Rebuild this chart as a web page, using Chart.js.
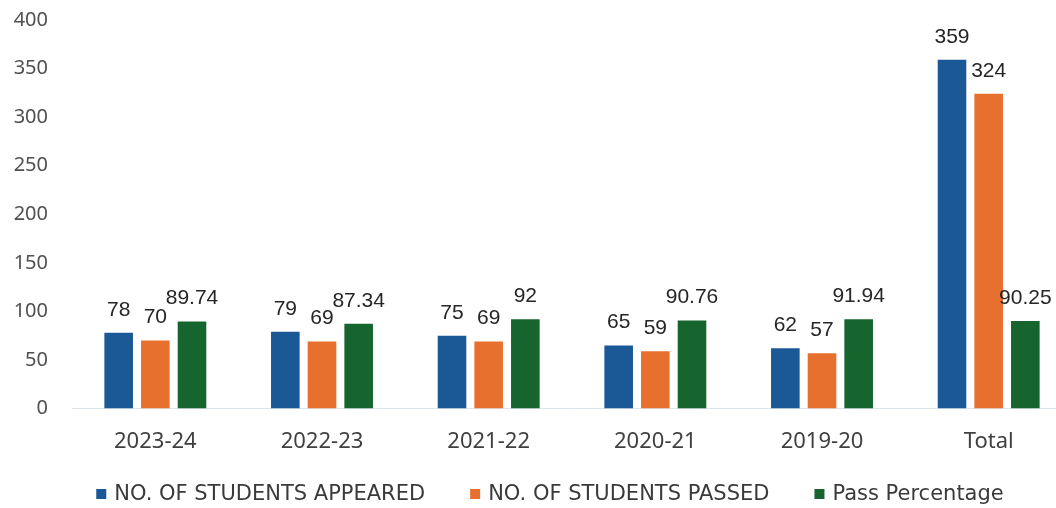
<!DOCTYPE html>
<html>
<head>
<meta charset="utf-8">
<script src="https://cdn.jsdelivr.net/npm/chart.js@4.4.1/dist/chart.umd.min.js"></script>
<style>
  html, body { margin: 0; padding: 0; background: #ffffff; overflow: hidden; }
  #wrap { width: 1072px; height: 508px; }
</style>
</head>
<body>
<div id="wrap"><canvas id="c" width="1072" height="508"></canvas></div>
<script>
const categories = ["2023-24", "2022-23", "2021-22", "2020-21", "2019-20", "Total"];
const appeared = [78, 79, 75, 65, 62, 359];
const passed = [70, 69, 69, 59, 57, 324];
const passPercentage = [89.74, 87.34, 92, 90.76, 91.94, 90.25];
const seriesNames = ["NO. OF STUDENTS APPEARED", "NO. OF STUDENTS PASSED", "Pass Percentage"];
const yTicks = [0, 50, 100, 150, 200, 250, 300, 350, 400];

const labelPlugin = {
  id: 'barLabels',
  afterDatasetsDraw(chart) {
    const ctx = chart.ctx;
    ctx.save();
    ctx.font = '21px "Liberation Sans", Arial, sans-serif';
    ctx.fillStyle = '#262626';
    ctx.textAlign = 'center';
    ctx.textBaseline = 'middle';
    chart.data.datasets.forEach((ds, di) => {
      const meta = chart.getDatasetMeta(di);
      meta.data.forEach((bar, i) => {
        ctx.fillText(String(ds.data[i]), bar.x, bar.y - 23);
      });
    });
    ctx.restore();
  }
};

// legend drawn from the dataset labels/colours
const legendPlugin = {
  id: 'bottomLegend',
  afterDraw(chart) {
    const ctx = chart.ctx;
    ctx.save();
    ctx.font = '21px "DejaVu Sans", sans-serif';
    ctx.textBaseline = 'middle';
    ctx.textAlign = 'left';
    const box = 10, gapBox = 8, gapItem = 45;
    const items = chart.data.datasets.map(ds => ({
      text: ds.label, color: ds.backgroundColor, w: ctx.measureText(ds.label).width
    }));
    const total = items.reduce((s, it) => s + box + gapBox + it.w, 0) + gapItem * (items.length - 1);
    const cx = 550, cy = chart.height - 13;
    let x = cx - total / 2;
    items.forEach(it => {
      ctx.fillStyle = it.color;
      ctx.fillRect(x, cy - box / 2 - 1, box, box);
      x += box + gapBox;
      ctx.fillStyle = '#3a3a3a';
      ctx.fillText(it.text, x, cy);
      x += it.w + gapItem;
    });
    ctx.restore();
  }
};

new Chart(document.getElementById('c'), {
  type: 'bar',
  data: {
    labels: categories,
    datasets: [
      { label: seriesNames[0], data: appeared, backgroundColor: '#1b5896' },
      { label: seriesNames[1], data: passed, backgroundColor: '#e8702f' },
      { label: seriesNames[2], data: passPercentage, backgroundColor: '#17652e' }
    ]
  },
  options: {
    responsive: false,
    animation: false,
    devicePixelRatio: 1,
    layout: { padding: { top: 0, left: 10, right: 0, bottom: 33 } },
    datasets: { bar: { categoryPercentage: 0.66, barPercentage: 0.78 } },
    scales: {
      x: {
        grid: { display: false, drawTicks: false },
        border: { color: '#dde5ec', width: 1 },
        ticks: { color: '#404040', padding: 20, font: { family: '"Noto Sans", sans-serif', size: 22 } }
      },
      y: {
        min: 0, max: 400,
        afterBuildTicks(scale) { scale.ticks = yTicks.map(v => ({ value: v })); },
        afterFit(scale) { scale.width = 62; scale.paddingTop = 20; scale.paddingBottom = 0; },
        grid: { display: false, drawTicks: false },
        border: { display: false },
        ticks: { color: '#505050', padding: 24, font: { family: '"Noto Sans", sans-serif', size: 20 } }
      }
    },
    plugins: {
      legend: { display: false },
      tooltip: { enabled: false }
    }
  },
  plugins: [labelPlugin, legendPlugin]
});
</script>
</body>
</html>
